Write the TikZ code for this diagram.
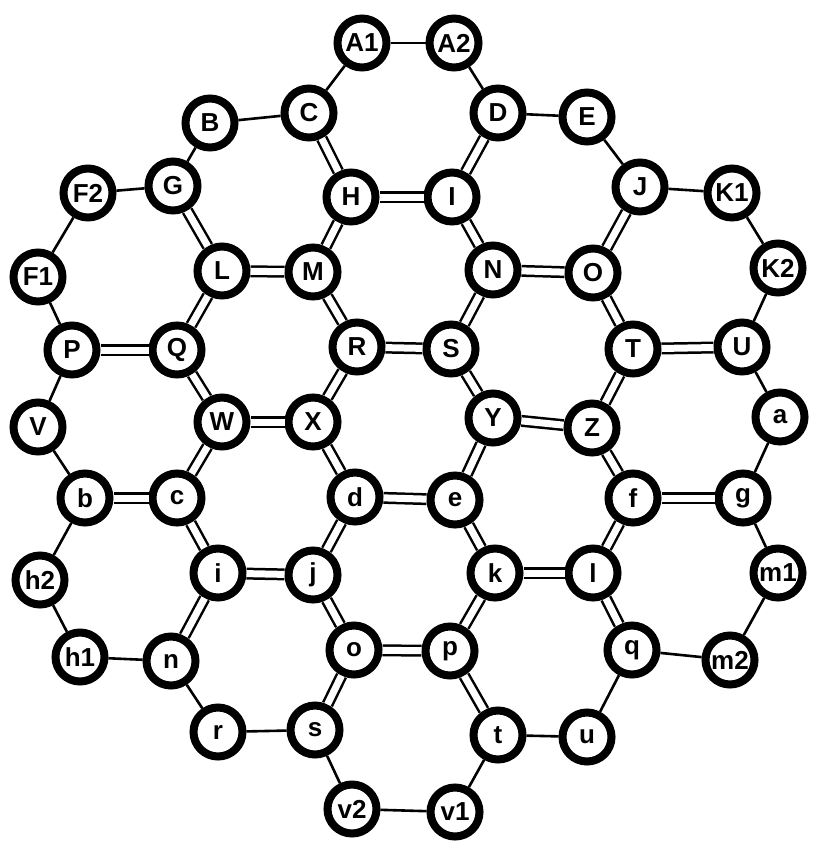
\documentclass[tikz,border=0pt]{standalone}
\usepackage{fontspec}
\setmainfont{Liberation Sans}
\begin{document}
\begin{tikzpicture}[x=1pt, y=-1pt, line width=2.6pt,
  main/.style = {draw, circle, fill=white, line width=8pt, minimum size=49pt, inner sep=0pt, font=\bfseries\fontsize{26}{26}\selectfont},
  dbl/.style = {double, double distance=7pt, line width=2.5pt}]
			\useasboundingbox (0,0) rectangle (813,853);
			\node[main] (A1) at (362,43) {A1};
			\node[main] (A2) at (454,43) {A2};
			\node[main] (B) at (210,123) {B};
			\node[main] (C) at (309,113) {C};
			\node[main] (D) at (498,113) {D};
			\node[main] (E) at (587,117) {E};
			\node[main] (F2) at (88,193) {F2};
			\node[main] (G) at (173,186) {G};
			\node[main] (H) at (351,197) {H};
			\node[main] (I) at (452,197) {I};
			\node[main] (J) at (640,187) {J};
			\node[main] (K1) at (732,193) {K1};
			\node[main] (F1) at (38,277) {F1};
			\node[main] (L) at (222,271) {L};
			\node[main] (M) at (313,272) {M};
			\node[main] (N) at (493,270) {N};
			\node[main] (O) at (593,273) {O};
			\node[main] (K2) at (778,268) {K2};
			\node[main] (P) at (72,350) {P};
			\node[main] (Q) at (177,350) {Q};
			\node[main] (R) at (357,347) {R};
			\node[main] (S) at (451,349) {S};
			\node[main] (T) at (633,349) {T};
			\node[main] (U) at (742,347) {U};
			\node[main] (V) at (38,427) {V};
			\node[main] (W) at (222,422) {W};
			\node[main] (X) at (313,422) {X};
			\node[main] (Y) at (493,418) {Y};
			\node[main] (Z) at (592,428) {Z};
			\node[main] (a) at (780,417) {a};
			\node[main] (b) at (85,498) {b};
			\node[main] (c) at (177,498) {c};
			\node[main] (d) at (355,497) {d};
			\node[main] (e) at (455,500) {e};
			\node[main] (f) at (633,498) {f};
			\node[main] (g) at (743,498) {g};
			\node[main] (h2) at (40,580) {h2};
			\node[main] (i) at (218,573) {i};
			\node[main] (j) at (313,575) {j};
			\node[main] (k) at (495,573) {k};
			\node[main] (l) at (593,573) {l};
			\node[main] (m1) at (778,573) {m1};
			\node[main] (h1) at (80,657) {h1};
			\node[main] (n) at (171,661) {n};
			\node[main] (o) at (354,650) {o};
			\node[main] (p) at (450,651) {p};
			\node[main] (q) at (632,650) {q};
			\node[main] (m2) at (730,660) {m2};
			\node[main] (r) at (218,732) {r};
			\node[main] (s) at (315,730) {s};
			\node[main] (t) at (498,735) {t};
			\node[main] (u) at (587,737) {u};
			\node[main] (v2) at (352,809) {v2};
			\node[main] (v1) at (455,812) {v1};
			% single bonds
			\draw (A1) -- (A2);
			\draw (A1) -- (C);
			\draw (A2) -- (D);
			\draw (B) -- (C);
			\draw (B) -- (G);
			\draw (D) -- (E);
			\draw (E) -- (J);
			\draw (F2) -- (G);
			\draw (F2) -- (F1);
			\draw (F1) -- (P);
			\draw (J) -- (K1);
			\draw (K1) -- (K2);
			\draw (K2) -- (U);
			\draw (P) -- (V);
			\draw (V) -- (b);
			\draw (U) -- (a);
			\draw (a) -- (g);
			\draw (b) -- (h2);
			\draw (h2) -- (h1);
			\draw (h1) -- (n);
			\draw (g) -- (m1);
			\draw (m1) -- (m2);
			\draw (m2) -- (q);
			\draw (n) -- (r);
			\draw (r) -- (s);
			\draw (q) -- (u);
			\draw (u) -- (t);
			\draw (s) -- (v2);
			\draw (v2) -- (v1);
			\draw (v1) -- (t);
			% double bonds
			\draw[dbl] (C) -- (H);
			\draw[dbl] (D) -- (I);
			\draw[dbl] (H) -- (I);
			\draw[dbl] (G) -- (L);
			\draw[dbl] (L) -- (M);
			\draw[dbl] (M) -- (H);
			\draw[dbl] (J) -- (O);
			\draw[dbl] (O) -- (N);
			\draw[dbl] (N) -- (I);
			\draw[dbl] (P) -- (Q);
			\draw[dbl] (Q) -- (L);
			\draw[dbl] (N) -- (S);
			\draw[dbl] (S) -- (R);
			\draw[dbl] (R) -- (M);
			\draw[dbl] (U) -- (T);
			\draw[dbl] (T) -- (O);
			\draw[dbl] (R) -- (X);
			\draw[dbl] (X) -- (W);
			\draw[dbl] (W) -- (Q);
			\draw[dbl] (T) -- (Z);
			\draw[dbl] (Z) -- (Y);
			\draw[dbl] (Y) -- (S);
			\draw[dbl] (W) -- (c);
			\draw[dbl] (c) -- (b);
			\draw[dbl] (Y) -- (e);
			\draw[dbl] (e) -- (d);
			\draw[dbl] (d) -- (X);
			\draw[dbl] (f) -- (g);
			\draw[dbl] (f) -- (Z);
			\draw[dbl] (d) -- (j);
			\draw[dbl] (j) -- (i);
			\draw[dbl] (i) -- (c);
			\draw[dbl] (f) -- (l);
			\draw[dbl] (l) -- (k);
			\draw[dbl] (k) -- (e);
			\draw[dbl] (i) -- (n);
			\draw[dbl] (k) -- (p);
			\draw[dbl] (p) -- (o);
			\draw[dbl] (o) -- (j);
			\draw[dbl] (q) -- (l);
			\draw[dbl] (o) -- (s);
			\draw[dbl] (t) -- (p);
		\end{tikzpicture}
\end{document}
